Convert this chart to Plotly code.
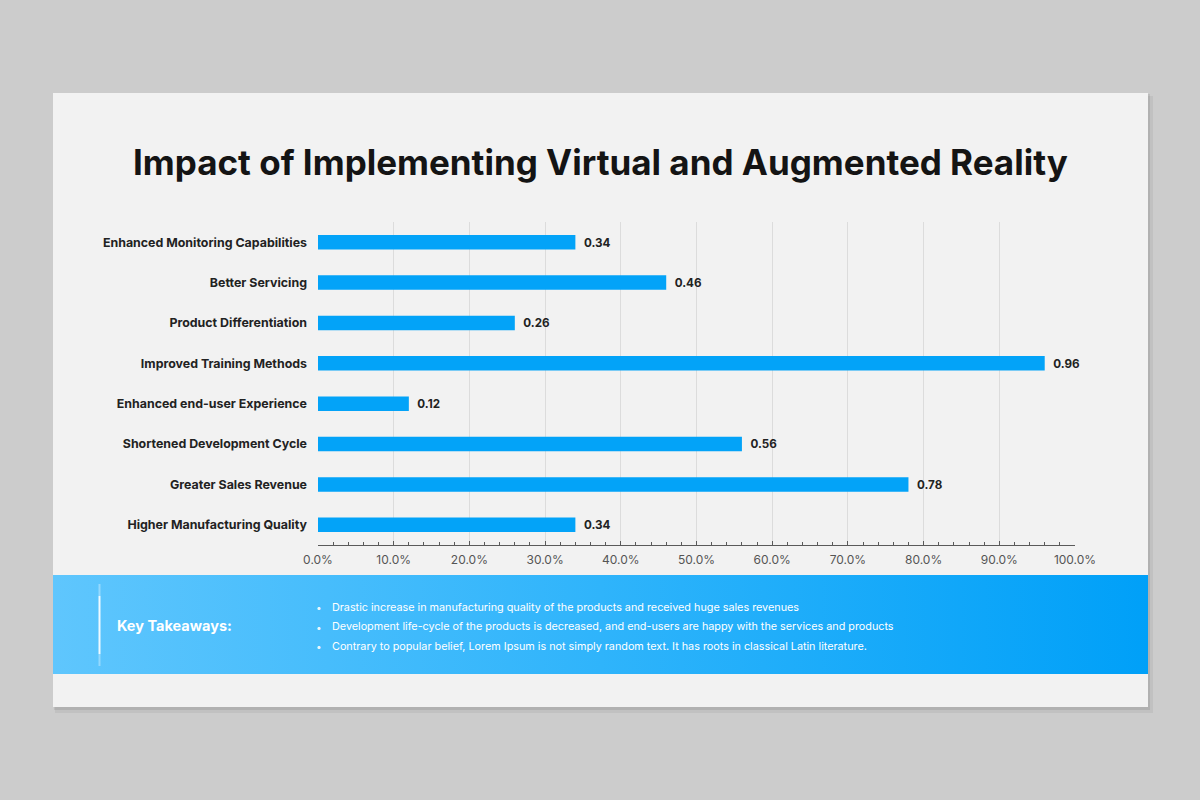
import plotly.graph_objects as go

W, H = 1200, 800

categories = [
    "Enhanced Monitoring Capabilities",
    "Better Servicing",
    "Product Differentiation",
    "Improved Training Methods",
    "Enhanced end-user Experience",
    "Shortened Development Cycle",
    "Greater Sales Revenue",
    "Higher Manufacturing Quality",
]
values = [0.34, 0.46, 0.26, 0.96, 0.12, 0.56, 0.78, 0.34]

title = "Impact of Implementing Virtual and Augmented Reality"
takeaway_head = "Key Takeaways:"
takeaways = [
    "Drastic increase in manufacturing quality of the products and received huge sales revenues",
    "Development life-cycle of the products is decreased, and end-users are happy with the services and products",
    "Contrary to popular belief, Lorem Ipsum is not simply random text. It has roots in classical Latin literature.",
]

FONT = "Inter, Open Sans, sans-serif"
BLUE = "#03a3f8"


def px(x):
    return x / W


def py(y):
    return 1 - y / H


fig = go.Figure()

fig.add_trace(go.Bar(
    x=values, y=categories, orientation="h",
    marker=dict(color=BLUE, line=dict(width=0)),
    width=0.36,
    text=[f"  {v:.2f}" for v in values],
    textposition="outside", cliponaxis=False,
    textfont=dict(family=FONT, size=12, color="#222222", weight="bold"),
    hoverinfo="skip",
))

# banner with gradient, on a full-figure pixel axis pair
fig.add_trace(go.Scatter(
    x=[53, 1148, 1148, 53, 53], y=[575, 575, 674, 674, 575],
    xaxis="x2", yaxis="y2", mode="lines", line=dict(width=0),
    fill="toself",
    fillgradient=dict(type="horizontal", colorscale=[[0, "#5fc6fd"], [0.5, "#2fb4fb"], [1, "#00a0f8"]]),
    hoverinfo="skip", showlegend=False,
))

shapes = [
    # slide shadow + slide
    dict(type="rect", xref="paper", yref="paper", layer="below",
         x0=px(55), x1=px(1153), y0=py(96), y1=py(713),
         fillcolor="rgba(0,0,0,0.05)", line=dict(width=0)),
    dict(type="rect", xref="paper", yref="paper", layer="below",
         x0=px(54), x1=px(1150), y0=py(94), y1=py(710),
         fillcolor="rgba(0,0,0,0.08)", line=dict(width=0)),
    dict(type="rect", xref="paper", yref="paper", layer="below",
         x0=px(53), x1=px(1148), y0=py(93), y1=py(707),
         fillcolor="#f2f2f2", line=dict(width=0)),
]
# white accent line in banner, fading at both ends
for y0, y1, op in [(584, 596, 0.35), (596, 654, 0.9), (654, 666, 0.35)]:
    shapes.append(dict(type="line", xref="paper", yref="paper", layer="above",
                       x0=px(99.5), x1=px(99.5), y0=py(y0), y1=py(y1),
                       line=dict(color=f"rgba(255,255,255,{op})", width=2)))

annotations = [
    dict(text=f"<b>{title}</b>", xref="paper", yref="paper", x=0.5, y=py(162),
         xanchor="center", yanchor="middle", showarrow=False,
         font=dict(family=FONT, size=35, color="#141414")),
    dict(text=f"<b>{takeaway_head}</b>", xref="paper", yref="paper", x=px(115), y=py(625),
         xanchor="left", yanchor="middle", showarrow=False,
         font=dict(family=FONT, size=14.5, color="#ffffff")),
]
for i, t in enumerate(takeaways):
    yy = 607 + i * 19.5
    annotations.append(dict(text="•", xref="paper", yref="paper", x=px(314), y=py(yy),
                            xanchor="left", yanchor="middle", showarrow=False,
                            font=dict(family=FONT, size=10, color="rgba(255,255,255,0.9)")))
    annotations.append(dict(text=t, xref="paper", yref="paper", x=px(330), y=py(yy),
                            xanchor="left", yanchor="middle", showarrow=False,
                            font=dict(family=FONT, size=10.8, color="#ffffff")))

fig.update_layout(
    template="none",
    width=W, height=H,
    autosize=False,
    margin=dict(l=0, r=0, t=0, b=0, pad=0, autoexpand=False),
    paper_bgcolor="#cccccc",
    plot_bgcolor="rgba(0,0,0,0)",
    showlegend=False,
    shapes=shapes,
    annotations=annotations,
    xaxis=dict(
        domain=[px(318), px(1075)], range=[0, 1],
        tickformat=".1%", dtick=0.1,
        showgrid=True, gridcolor="#dcdcdc", gridwidth=1,
        zeroline=False, automargin=False,
        showline=True, linecolor="#5a5a5a", linewidth=1,
        ticks="inside", ticklen=4, tickcolor="#5a5a5a",
        minor=dict(dtick=0.02, ticks="inside", ticklen=3, tickcolor="#5a5a5a", showgrid=False),
        tickfont=dict(family=FONT, size=12, color="#555555"),
        ticklabelstandoff=4,
        fixedrange=True,
    ),
    yaxis=dict(
        domain=[py(545), py(222)],
        autorange="reversed",
        showgrid=False, zeroline=False, showline=False, automargin=False,
        ticks="", ticklabelstandoff=10,
        tickfont=dict(family=FONT, size=12.4, color="#222222", weight="bold"),
        fixedrange=True,
    ),
    xaxis2=dict(domain=[0, 1], range=[0, W], visible=False, anchor="y2",
                fixedrange=True, automargin=False),
    yaxis2=dict(domain=[0, 1], range=[H, 0], visible=False, anchor="x2",
                fixedrange=True, automargin=False),
)

fig.write_html("out.html", config={"responsive": False, "displayModeBar": False},
               post_script="document.body.style.margin='0';")
